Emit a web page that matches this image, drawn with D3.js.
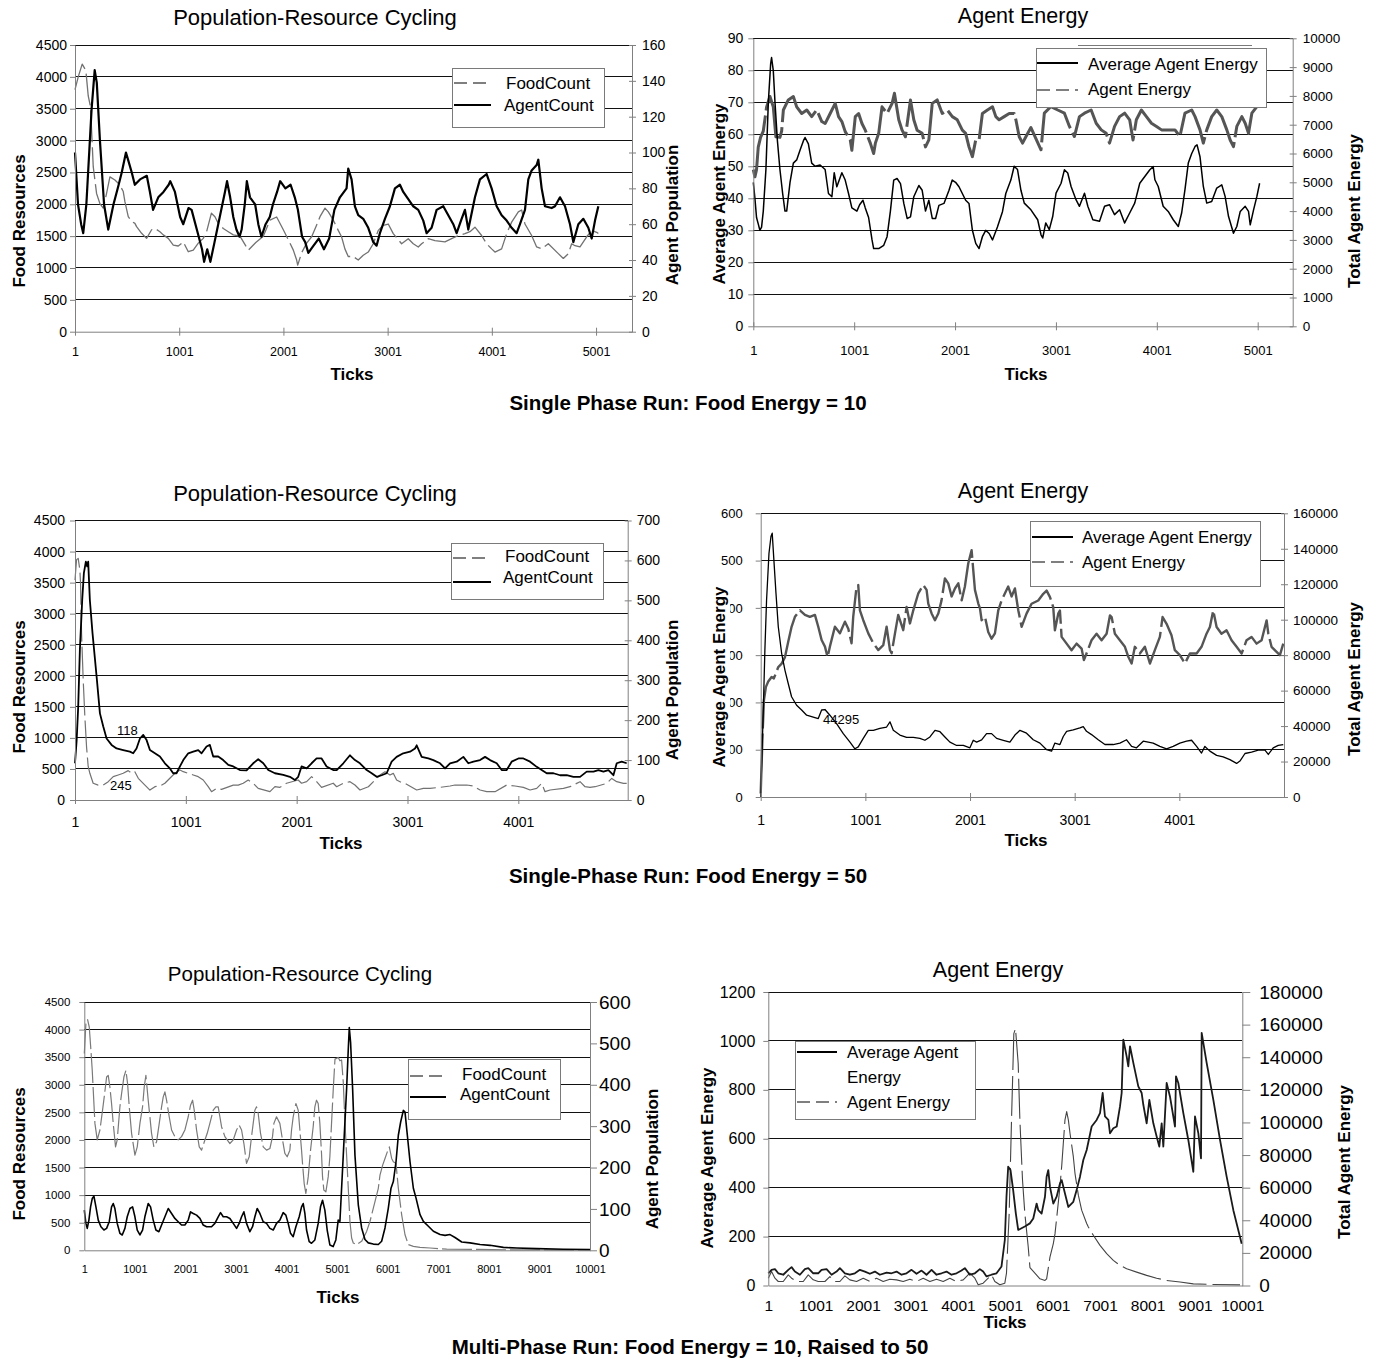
<!DOCTYPE html>
<html><head><meta charset="utf-8">
<script src="https://cdn.jsdelivr.net/npm/d3@7"></script>
<style>
body{margin:0;background:#fff;}
svg{display:block;}
</style></head><body>
<svg id="chart" width="1377" height="1362"></svg>
<script>
// ---------------- DATA ----------------
const xTicks5k = [1,1001,2001,3001,4001,5001];
const xTicks4k = [1,1001,2001,3001,4001];
const xTicks10k = [1,1001,2001,3001,4001,5001,6001,7001,8001,9001,10001];
const foodTicks = [0,500,1000,1500,2000,2500,3000,3500,4000,4500];
const p1RightTicks = [0,20,40,60,80,100,120,140,160];
const p2LeftTicks = [0,10,20,30,40,50,60,70,80,90];
const p2RightTicks = [0,1000,2000,3000,4000,5000,6000,7000,8000,9000,10000];
const p3RightTicks = [0,100,200,300,400,500,600,700];
const p4LeftTicks = [0,100,200,300,400,500,600];
const p4RightTicks = [0,20000,40000,60000,80000,100000,120000,140000,160000];
const p5RightTicks = [0,100,200,300,400,500,600];
const p6LeftTicks = [0,200,400,600,800,1000,1200];
const p6RightTicks = [0,20000,40000,60000,80000,100000,120000,140000,160000,180000];

const popNames = ["FoodCount","AgentCount"];
const energyNames = ["Average Agent Energy","Agent Energy"];

// Panel 1: Single phase, food energy 10
const p1Food = [[1,3800],[32,4000],[70,4200],[105,4100],[128,3700],[150,3530],[176,2590],[208,2170],[240,2010],[272,1940],[304,2170],[336,2430],[384,2380],[416,2330],[448,2250],[464,2200],[480,2040],[512,1805],[544,1730],[576,1700],[592,1650],[640,1545],[688,1465],[736,1600],[768,1620],[816,1570],[848,1520],[896,1465],[944,1360],[992,1345],[1040,1410],[1088,1255],[1136,1280],[1184,1390],[1232,1465],[1264,1570],[1310,1860],[1344,1805],[1376,1700],[1424,1620],[1472,1570],[1520,1520],[1584,1500],[1664,1280],[1736,1400],[1808,1500],[1872,1750],[1936,1800],[2000,1600],[2064,1390],[2096,1280],[2128,1125],[2138,1045],[2176,1240],[2224,1390],[2272,1490],[2320,1675],[2352,1805],[2400,1940],[2432,1880],[2480,1750],[2527,1590],[2559,1490],[2591,1300],[2623,1180],[2671,1180],[2719,1125],[2767,1200],[2815,1250],[2863,1380],[2911,1590],[2959,1670],[3007,1690],[3055,1540],[3135,1380],[3199,1460],[3247,1380],[3295,1330],[3327,1380],[3391,1460],[3455,1430],[3551,1410],[3615,1460],[3679,1510],[3743,1540],[3791,1570],[3839,1640],[3903,1510],[3951,1380],[3999,1300],[4031,1250],[4095,1300],[4143,1540],[4191,1720],[4255,1880],[4287,1910],[4319,1690],[4383,1510],[4431,1330],[4479,1300],[4543,1380],[4639,1225],[4687,1150],[4735,1225],[4767,1380],[4799,1350],[4847,1330],[4911,1490],[4959,1590],[5007,1560],[5023,1540]];
const p1Agent = [[1,100],[30,71],[60,60],[80,55],[110,71],[160,124],[190,146],[210,139],[240,107],[280,71],[320,57],[370,71],[420,82],[450,89],[490,100],[510,96],[545,89],[575,82],[625,85],[690,87],[720,78],[750,68],[800,75],[850,78],[900,82],[915,84],[960,78],[1010,64],[1040,60],[1090,69],[1120,68],[1170,57],[1220,46],[1240,39],[1270,46],[1300,39],[1340,50],[1390,64],[1440,78],[1460,84],[1490,75],[1520,64],[1550,57],[1580,53],[1600,57],[1630,71],[1650,84],[1680,75],[1730,71],[1760,60],[1790,53],[1830,60],[1870,64],[1900,71],[1940,78],[1970,84],[2020,80],[2070,82],[2110,75],[2140,68],[2180,53],[2210,50],[2240,44],[2290,48],[2340,52],[2390,46],[2440,52],[2490,68],[2543,75],[2607,80],[2623,91],[2655,85],[2687,70],[2719,65],[2767,63],[2815,58],[2863,50],[2895,48],[2927,55],[2975,63],[3023,70],[3071,80],[3119,82],[3151,78],[3199,74],[3247,70],[3295,68],[3343,62],[3375,55],[3423,58],[3471,68],[3535,70],[3583,65],[3631,60],[3663,55],[3711,63],[3743,68],[3775,57],[3839,75],[3887,85],[3951,88],[3999,80],[4047,70],[4095,65],[4143,62],[4191,58],[4239,55],[4271,60],[4319,68],[4351,85],[4383,90],[4431,93],[4447,96],[4479,80],[4511,70],[4575,69],[4607,70],[4655,75],[4703,70],[4751,60],[4783,50],[4831,60],[4879,63],[4927,58],[4959,52],[4991,62],[5023,70]];

// Panel 2: agent energy, food energy 10
const p2Avg = [[1,45],[17,40],[33,34],[50,32],[66,30],[83,31],[100,36],[126,49],[150,70],[173,82],[182,84],[199,80],[216,70],[240,58],[265,49],[292,41.5],[315,36],[332,36],[365,45],[398,51],[431,52],[464,55],[498,58],[514,59],[547,57],[580,51],[614,50],[663,50.4],[713,49],[746,41.5],[780,40.5],[803,48],[829,43.6],[879,48],[912,45.7],[945,41.5],[978,37],[1028,36],[1055,38],[1088,39.4],[1111,37],[1144,34],[1178,27],[1194,24.3],[1244,24.3],[1294,25.3],[1327,28],[1360,36],[1393,45.7],[1426,46.2],[1460,44.6],[1493,38.4],[1526,33.7],[1559,34.2],[1592,40.5],[1642,44],[1675,42.5],[1708,36],[1741,39.4],[1775,33.7],[1808,33.7],[1841,37.8],[1891,38.4],[1941,42.5],[1973,45.7],[2006,45],[2040,43.6],[2073,41.5],[2106,39.4],[2139,38.4],[2173,30],[2206,25.9],[2239,24.3],[2272,28],[2305,30],[2339,29],[2372,27],[2421,31],[2471,35.8],[2504,41.5],[2554,45.7],[2587,50],[2620,49],[2654,42.5],[2687,38.5],[2753,36.4],[2820,33.3],[2853,28.6],[2870,27.6],[2900,32.3],[2935,30.2],[2969,34.3],[3002,41.6],[3052,44.7],[3085,48.9],[3118,47.9],[3151,43.7],[3201,39.5],[3234,37.5],[3284,41.6],[3317,37.5],[3367,33.3],[3433,32.8],[3483,37.5],[3532,38],[3582,34.9],[3632,36.4],[3682,32.3],[3732,35.4],[3782,38.5],[3832,44.7],[3882,46.8],[3932,48.9],[3965,49.9],[3982,45.8],[4015,43.7],[4064,37.5],[4114,35.9],[4164,33.3],[4214,31.2],[4247,35.4],[4280,42.7],[4313,51],[4347,54],[4380,56.2],[4400,56.7],[4429,53],[4462,43.7],[4496,38.5],[4545,39],[4595,43.2],[4645,44.2],[4678,40.6],[4712,34.3],[4761,29.1],[4794,31.2],[4828,35.9],[4877,37.5],[4910,35.9],[4927,31.7],[4960,36.4],[4993,40.6],[5020,44.7]];
const p2Total = [[1,5440],[17,5190],[33,5440],[50,6220],[73,6560],[100,6780],[133,7620],[166,7980],[199,7620],[225,6580],[265,6560],[282,6780],[299,7510],[348,7860],[398,7980],[431,7620],[481,7390],[531,7510],[580,7280],[630,7510],[680,7110],[713,7040],[763,7390],[813,7740],[846,7280],[879,7110],[912,6760],[962,6470],[978,6110],[1012,7280],[1045,7390],[1078,7040],[1111,6810],[1161,6360],[1194,6000],[1211,6360],[1244,6700],[1277,7620],[1327,7390],[1377,7740],[1400,8090],[1443,7170],[1476,6810],[1509,6580],[1559,7860],[1592,7170],[1625,6810],[1675,6700],[1708,6230],[1741,6470],[1775,7740],[1824,7860],[1874,7390],[1924,7510],[1974,7280],[2023,7170],[2073,6810],[2106,6700],[2139,6230],[2173,5890],[2206,6470],[2239,6470],[2272,7390],[2322,7510],[2372,7620],[2405,7280],[2438,7170],[2488,7280],[2538,7390],[2587,7390],[2604,7170],[2637,6580],[2670,6360],[2703,6580],[2753,6900],[2853,6130],[2886,7400],[2952,7630],[3019,7510],[3085,7400],[3135,6940],[3184,6590],[3234,7280],[3284,7400],[3350,7510],[3400,7050],[3450,6820],[3499,6700],[3532,6360],[3582,6940],[3632,7280],[3682,7400],[3732,7170],[3765,6470],[3798,7170],[3848,7510],[3898,7280],[3948,7050],[3998,6940],[4048,6820],[4114,6820],[4181,6820],[4230,6590],[4280,7400],[4347,7510],[4380,7280],[4429,6820],[4462,6360],[4496,6820],[4545,7280],[4595,7510],[4645,7280],[4695,6820],[4728,6470],[4761,6240],[4794,6940],[4844,7280],[4877,7050],[4910,6700],[4943,7400],[4993,7630],[5026,7690]];

// Panel 3: Single phase, food energy 50
const p3Food = [[1,3540],[15,3870],[30,3890],[45,3700],[51,3490],[60,2690],[75,1930],[90,1340],[105,860],[120,540],[135,430],[165,270],[210,240],[256,240],[301,295],[346,376],[391,403],[436,430],[481,473],[511,430],[541,456],[572,349],[632,240],[677,160],[722,215],[767,225],[812,270],[857,350],[902,430],[948,483],[978,456],[1068,403],[1113,376],[1158,322],[1203,215],[1233,134],[1278,188],[1323,172],[1429,240],[1474,240],[1519,270],[1564,322],[1609,270],[1654,188],[1760,134],[1805,215],[1850,204],[1910,270],[2015,322],[2045,270],[2091,295],[2136,376],[2181,295],[2226,204],[2331,270],[2362,214],[2422,268],[2482,295],[2527,241],[2572,161],[2648,214],[2708,321],[2753,402],[2798,455],[2843,402],[2873,429],[2903,321],[2948,279],[2978,268],[3084,161],[3144,188],[3204,188],[3295,204],[3385,225],[3430,241],[3535,241],[3596,225],[3656,161],[3716,134],[3791,134],[3896,241],[3971,225],[4047,204],[4107,161],[4167,188],[4212,268],[4242,134],[4288,161],[4408,188],[4468,214],[4528,268],[4558,295],[4603,214],[4648,204],[4694,214],[4799,268],[4844,348],[4889,295],[4949,268],[4979,268]];
const p3Agent = [[1,92],[16,150],[30,234],[45,376],[66,501],[81,568],[99,597],[111,585],[120,597],[135,501],[159,418],[196,309],[226,217],[256,184],[286,154],[331,138],[376,129],[436,125],[496,121],[526,117],[556,129],[587,154],[617,163],[647,150],[677,125],[722,117],[767,109],[812,92],[857,79],[887,67],[917,67],[948,84],[978,100],[1023,117],[1068,121],[1113,125],[1143,117],[1188,134],[1218,138],[1248,109],[1293,109],[1338,100],[1384,88],[1429,84],[1489,75],[1549,74],[1609,92],[1654,102],[1700,92],[1745,75],[1805,67],[1880,63],[1940,58],[1985,50],[2015,58],[2045,84],[2091,79],[2136,92],[2181,104],[2226,104],[2271,84],[2331,75],[2362,75],[2422,92],[2482,112],[2527,100],[2572,92],[2633,75],[2678,67],[2723,58],[2768,62],[2813,67],[2858,96],[2903,108],[2963,117],[3024,121],[3069,129],[3084,137],[3129,108],[3189,104],[3234,100],[3295,92],[3340,79],[3385,92],[3445,96],[3505,108],[3550,92],[3596,96],[3656,100],[3701,108],[3746,100],[3806,92],[3851,75],[3896,75],[3941,96],[4002,104],[4047,104],[4107,96],[4167,83],[4212,75],[4257,67],[4318,67],[4378,62],[4438,62],[4498,58],[4558,58],[4618,71],[4679,71],[4724,75],[4769,71],[4814,75],[4859,62],[4889,92],[4934,96],[4979,92]];

// Panel 4: agent energy, food energy 50
const p4Avg = [[1,0],[10,70],[25,176],[41,311],[57,416],[80,515],[99,551],[111,558],[127,501],[147,431],[169,360],[201,304],[233,268],[264,240],[296,212],[344,194],[392,184],[440,173],[503,169],[551,166],[583,184],[615,185],[662,173],[726,155],[790,134],[854,116],[901,102],[933,106],[981,124],[1029,141],[1077,141],[1140,145],[1204,148],[1236,159],[1268,141],[1331,131],[1395,126],[1459,126],[1522,124],[1570,120],[1618,127],[1666,141],[1714,138],[1761,127],[1809,116],[1873,109],[1937,109],[2000,104],[2032,120],[2064,116],[2112,121],[2159,134],[2207,134],[2255,124],[2319,120],[2382,116],[2430,131],[2478,141],[2541,135],[2605,121],[2669,114],[2733,100],[2780,97],[2812,114],[2860,111],[2892,128],[2924,139],[2987,142],[3051,146],[3083,149],[3114,139],[3162,132],[3226,121],[3290,111],[3369,111],[3433,114],[3497,121],[3545,107],[3592,104],[3656,118],[3751,114],[3815,107],[3879,102],[3942,107],[4006,114],[4070,118],[4118,120],[4166,107],[4213,93],[4245,107],[4293,97],[4357,88],[4420,85],[4484,79],[4548,71],[4580,76],[4628,92],[4691,95],[4755,99],[4819,99],[4851,90],[4898,104],[4946,109],[4994,111]];
const p4Total = [[1,2000],[19,35700],[32,54700],[51,62100],[73,65100],[105,67700],[127,66900],[169,73300],[201,75200],[233,78900],[264,87500],[296,96000],[328,101600],[376,105300],[424,102700],[471,101600],[519,102700],[551,96000],[583,88500],[615,84800],[640,78900],[662,84800],[710,96000],[758,92300],[806,98900],[838,94900],[869,86700],[885,101600],[917,118700],[933,119500],[949,105300],[981,99700],[1029,92300],[1077,86700],[1124,82900],[1172,85600],[1204,96000],[1236,82900],[1252,81100],[1284,92300],[1315,102700],[1363,94100],[1395,107200],[1427,97900],[1459,105300],[1507,114900],[1554,119500],[1586,116800],[1602,109100],[1634,103500],[1666,99700],[1698,103500],[1729,110900],[1761,123200],[1793,120500],[1825,113100],[1857,117600],[1889,120500],[1921,110900],[1952,118700],[1984,131700],[2016,139200],[2032,128000],[2048,116800],[2080,109100],[2096,106400],[2112,99700],[2144,101600],[2175,93100],[2207,89300],[2239,92300],[2271,105300],[2303,110900],[2335,114900],[2366,118700],[2398,113100],[2430,117600],[2462,105300],[2494,96000],[2541,103400],[2589,109000],[2653,110800],[2701,114600],[2733,116400],[2765,112700],[2796,107100],[2812,94000],[2844,103400],[2860,105200],[2876,90300],[2924,86500],[2971,82800],[3019,86500],[3067,83700],[3089,77200],[3114,80900],[3162,88400],[3210,92100],[3258,88400],[3306,92100],[3338,102400],[3354,101500],[3385,92100],[3433,88400],[3481,84700],[3513,79100],[3545,75300],[3576,84700],[3624,80900],[3672,84700],[3720,75300],[3767,82800],[3815,90300],[3841,101500],[3879,97700],[3926,91200],[3958,82800],[4006,80000],[4054,75300],[4102,80900],[4166,80900],[4213,84700],[4261,92100],[4293,95900],[4325,105200],[4357,95900],[4404,92100],[4452,94000],[4500,88400],[4548,84700],[4596,80900],[4643,88400],[4691,90300],[4739,86500],[4787,88400],[4835,99600],[4851,92100],[4882,84700],[4930,81900],[4962,80000],[4994,86500]];

// Panel 5: multi-phase
const p5Food = [[1,3565],[33,4108],[66,4180],[99,4047],[132,3625],[158,3263],[178,2900],[211,2300],[257,2000],[310,2180],[362,2540],[395,2780],[442,3140],[474,3170],[507,2960],[540,2660],[573,2300],[619,1875],[652,2000],[705,2600],[738,2840],[784,3140],[824,3260],[857,3020],[890,2600],[936,2120],[1002,1725],[1048,1875],[1101,2300],[1153,2600],[1186,2960],[1219,3170],[1265,2720],[1331,2120],[1377,1875],[1430,1965],[1483,2300],[1529,2600],[1562,2780],[1595,2870],[1628,2720],[1680,2420],[1727,2180],[1792,2060],[1858,2000],[1924,2060],[1990,2180],[2023,2300],[2056,2420],[2102,2630],[2142,2720],[2175,2540],[2221,2180],[2274,1875],[2320,1815],[2386,2000],[2432,2120],[2484,2300],[2551,2540],[2603,2600],[2649,2600],[2682,2420],[2715,2240],[2781,2060],[2880,1935],[2946,2000],[3012,2180],[3064,2270],[3111,2180],[3157,1935],[3209,1575],[3262,1695],[3308,2060],[3341,2300],[3374,2540],[3407,2600],[3440,2480],[3486,2120],[3539,1875],[3605,1815],[3671,1845],[3723,2060],[3750,2300],[3802,2420],[3868,2300],[3921,2000],[3967,1755],[4013,1695],[4066,1815],[4099,2180],[4132,2420],[4185,2660],[4231,2540],[4264,2180],[4297,1815],[4316,1575],[4349,1210],[4382,1030],[4429,1330],[4475,1815],[4527,2240],[4560,2600],[4593,2720],[4626,2660],[4659,2300],[4692,1755],[4712,1330],[4738,1090],[4778,1060],[4824,1330],[4857,1695],[4890,2300],[4923,2900],[4958,3465],[5023,3495],[5056,3435],[5089,3450],[5122,3045],[5155,2325],[5188,1724],[5221,1125],[5254,522],[5287,222],[5320,132],[5386,102],[5485,162],[5584,342],[5650,522],[5749,883],[5815,1124],[5848,1363],[5901,1544],[5947,1664],[5993,1784],[6033,1874],[6079,1664],[6112,1604],[6165,1574],[6211,1124],[6277,643],[6343,282],[6409,102],[6508,72],[6640,54],[6838,42],[7167,20],[7800,15],[8500,8],[9500,4],[10001,2]];
const p5Agent = [[1,97],[33,65],[59,53],[92,73],[125,105],[158,125],[191,131],[231,105],[277,73],[330,57],[389,49],[442,53],[494,69],[540,105],[573,113],[606,101],[652,65],[705,41],[751,37],[804,53],[850,81],[903,101],[956,105],[1002,81],[1048,49],[1101,37],[1153,49],[1199,81],[1265,113],[1311,105],[1364,73],[1417,49],[1476,45],[1529,61],[1595,81],[1661,101],[1727,89],[1792,77],[1858,69],[1924,61],[1990,61],[2056,73],[2102,93],[2155,89],[2221,85],[2287,77],[2353,61],[2419,57],[2517,57],[2583,65],[2649,81],[2695,91],[2748,81],[2814,81],[2880,77],[2946,65],[3012,53],[3064,65],[3111,81],[3157,93],[3209,65],[3275,45],[3328,57],[3374,81],[3420,101],[3473,89],[3539,69],[3605,65],[3671,53],[3737,49],[3802,65],[3868,73],[3934,91],[3987,85],[4033,65],[4079,41],[4132,33],[4185,57],[4251,81],[4297,105],[4330,113],[4363,89],[4396,49],[4448,21],[4494,17],[4560,25],[4626,65],[4672,105],[4712,121],[4758,97],[4804,49],[4857,13],[4923,9],[4975,25],[5022,73],[5056,70],[5122,230],[5188,390],[5221,486],[5241,538],[5267,502],[5307,390],[5353,230],[5419,110],[5485,54],[5551,26],[5617,18],[5716,15],[5815,14],[5881,22],[5947,54],[6013,102],[6066,150],[6112,166],[6165,214],[6211,278],[6257,310],[6310,338],[6343,334],[6389,278],[6442,214],[6508,150],[6561,126],[6640,86],[6706,70],[6805,58],[6904,46],[7036,38],[7135,36],[7233,38],[7332,31],[7464,20],[7629,18],[7827,14],[8025,12],[8289,7],[8553,5.6],[8948,4],[9475,2.4],[10001,1.6]];

// Panel 6: multi-phase agent energy
const p6Avg = [[1,50],[70,64],[141,67],[211,50],[316,44],[422,64],[492,75],[562,57],[668,44],[773,67],[844,71],[949,50],[1054,50],[1125,64],[1230,67],[1336,44],[1441,57],[1511,71],[1617,50],[1722,44],[1828,50],[1933,64],[2039,57],[2144,48],[2250,57],[2355,44],[2496,53],[2601,50],[2707,57],[2812,44],[2917,50],[3023,64],[3128,48],[3234,61],[3339,44],[3445,64],[3550,44],[3656,50],[3761,57],[3866,44],[3972,50],[4077,61],[4148,71],[4253,44],[4359,50],[4464,67],[4534,57],[4605,37],[4710,44],[4816,50],[4921,78],[4991,186],[5026,363],[5062,486],[5111,472],[5167,390],[5223,295],[5273,227],[5343,234],[5413,241],[5519,254],[5591,274],[5662,335],[5697,308],[5767,294],[5838,363],[5873,445],[5908,472],[5943,404],[6014,335],[6084,363],[6154,417],[6190,431],[6260,376],[6331,321],[6436,342],[6506,390],[6577,445],[6647,513],[6718,554],[6823,650],[6928,677],[6999,705],[7055,787],[7104,691],[7175,677],[7210,622],[7280,643],[7351,650],[7421,732],[7456,787],[7491,1005],[7561,937],[7596,896],[7632,978],[7702,910],[7807,814],[7878,787],[7913,739],[7983,663],[8040,759],[8124,663],[8194,609],[8250,568],[8300,663],[8335,568],[8405,828],[8475,773],[8581,650],[8602,855],[8651,828],[8757,705],[8862,595],[8968,465],[9003,691],[9074,622],[9130,520],[9144,1033],[9249,910],[9390,759],[9531,595],[9671,445],[9812,308],[9988,171]];
const p6Total = [[1,4490],[70,8570],[141,4490],[211,2450],[316,2450],[422,6530],[492,4490],[598,2450],[738,2450],[844,6530],[949,3470],[1054,2450],[1195,2450],[1300,5510],[1406,2450],[1511,2450],[1617,5920],[1722,3470],[1863,2450],[2004,4490],[2144,2450],[2285,4490],[2425,2450],[2566,3880],[2707,3470],[2847,2450],[2988,3880],[3128,2450],[3269,4490],[3410,2450],[3550,3880],[3691,2450],[3831,4490],[3972,2450],[4113,3470],[4253,7550],[4359,4490],[4429,410],[4534,1430],[4640,4490],[4710,6530],[4780,2450],[4886,410],[4991,1430],[5026,7550],[5083,44300],[5132,101400],[5181,154500],[5216,157600],[5273,136100],[5308,102000],[5364,64700],[5413,44300],[5484,23900],[5521,11000],[5732,4100],[5838,3100],[5873,4100],[5943,17400],[6014,25700],[6050,31800],[6154,60500],[6190,72900],[6225,87200],[6260,101600],[6296,106700],[6331,101600],[6366,93400],[6436,79000],[6471,68800],[6542,55400],[6612,46200],[6718,38000],[6753,35900],[6858,30800],[6999,24600],[7140,19500],[7280,15400],[7421,12300],[7561,10300],[7772,8200],[7983,6200],[8194,4500],[8405,3100],[8687,2100],[8968,1000],[9390,600],[9953,400]];

// ---------------- DRAWING ----------------
const FONT = '"Liberation Sans", Arial, Helvetica, sans-serif';
const svg = d3.select('#chart');
svg.append('rect').attr('width',1377).attr('height',1362).attr('fill','#fff');

function addText(g, t, x, y, opt) {
  opt = opt || {};
  const el = g.append('text').attr('x', x).attr('y', y).text(t)
    .attr('font-family', FONT).attr('font-size', opt.size || 14)
    .attr('font-weight', opt.bold ? 'bold' : 'normal')
    .attr('text-anchor', opt.anchor || 'start').attr('fill', '#000');
  if (opt.rotate) el.attr('transform', `rotate(-90,${x},${y})`);
  return el;
}
function styleAxis(a, fs) {
  a.attr('font-family', FONT).attr('font-size', fs);
  a.select('.domain').attr('stroke', '#808080');
  a.selectAll('.tick line').attr('stroke', '#808080');
  a.selectAll('.tick text').attr('fill', '#000');
}

function drawPanel(c) {
  const g = svg.append('g');
  const x = d3.scaleLinear().domain(c.xDomain).range([c.x0, c.x1]);
  const yL = d3.scaleLinear().domain(c.yLDomain).range([c.yB, c.yT]);
  const yR = d3.scaleLinear().domain(c.yRDomain).range([c.yB, c.yT]);
  // gridlines at the left-axis ticks
  g.append('g').selectAll('line').data(c.yLTicks.filter(v => v > c.yLDomain[0])).join('line')
    .attr('x1', c.x0).attr('x2', c.x1)
    .attr('y1', d => yL(d)).attr('y2', d => yL(d))
    .attr('stroke', '#111').attr('stroke-width', 1).attr('shape-rendering', 'crispEdges');
  // series
  c.series.forEach(s => {
    const sy = s.axis === 'L' ? yL : yR;
    const line = d3.line().x(d => x(d[0])).y(d => sy(d[1]));
    g.append('path').datum(s.data).attr('d', line).attr('fill', 'none')
      .attr('stroke', s.color).attr('stroke-width', s.width)
      .attr('stroke-dasharray', s.dash || null)
      .attr('stroke-linejoin', 'round');
  });
  // left axis
  const gl = g.append('g').attr('transform', `translate(${c.x0},0)`)
    .call(d3.axisLeft(yL).tickValues(c.yLTicks).tickFormat(d => String(d)).tickSizeInner(c.lTick).tickSizeOuter(0));
  styleAxis(gl, c.lFont);
  gl.selectAll('.tick text').attr('x', -c.lGap);
  // right axis
  const gr = g.append('g').attr('transform', `translate(${c.x1},0)`)
    .call(d3.axisRight(yR).tickValues(c.yRTicks).tickFormat(d => String(d)).tickSizeInner(c.rTick).tickSizeOuter(0));
  styleAxis(gr, c.rFont);
  gr.selectAll('.tick line').attr('x1', -c.rTickIn);
  gr.selectAll('.tick text').attr('x', c.rGap);
  // bottom axis
  const gb = g.append('g').attr('transform', `translate(0,${c.yB})`)
    .call(d3.axisBottom(x).tickValues(c.xTicks).tickFormat(d => String(d)).tickSizeInner(c.bTick).tickSizeOuter(0));
  styleAxis(gb, c.bFont);
  gb.selectAll('.tick line').attr('y1', -c.bTick);
  gb.selectAll('.tick text').attr('y', c.bOff).attr('dy', null);
  // titles
  addText(g, c.title, c.titleX, c.titleY, {size: c.titleSize, anchor: 'middle'});
  if (c.lLabelBg) {
    g.append('rect').attr('x', c.lLabelBg[0]).attr('y', c.lLabelBg[1])
      .attr('width', c.lLabelBg[2]).attr('height', c.lLabelBg[3]).attr('fill', '#fff');
  }
  addText(g, c.lLabel, c.lLabelX, c.lLabelY, {size: 17, bold: true, anchor: 'middle', rotate: true});
  addText(g, c.rLabel, c.rLabelX, c.rLabelY, {size: 17, bold: true, anchor: 'middle', rotate: true});
  addText(g, 'Ticks', c.xLabelX, c.xLabelY, {size: 17, bold: true, anchor: 'middle'});
  // legend
  const L = c.legend;
  const lg = svg.append('g');
  lg.append('rect').attr('x', L.x).attr('y', L.y).attr('width', L.w).attr('height', L.h)
    .attr('fill', '#fff').attr('stroke', '#7a7a7a').attr('stroke-width', 1).attr('shape-rendering', 'crispEdges');
  L.items.forEach(it => {
    lg.append('line').attr('x1', it.lx1).attr('x2', it.lx2).attr('y1', it.ly).attr('y2', it.ly)
      .attr('stroke', '#000').attr('stroke-width', it.dash ? 1.2 : 2.2)
      .attr('stroke-dasharray', it.dash ? '13,6' : null);
    it.text.forEach((t, i) => addText(lg, t, it.tx, it.ty[i], {size: 17}));
  });
  (c.notes || []).forEach(n => addText(g, n.t, n.x, n.y, {size: n.size || 13}));
}

// Panel 1
drawPanel({
  xDomain: [1, 5346], x0: 75, x1: 632, yT: 45, yB: 331.7,
  yLDomain: [0, 4500], yRDomain: [0, 160],
  yLTicks: foodTicks, yRTicks: p1RightTicks, xTicks: xTicks5k,
  lTick: 5, lGap: 8, lFont: 14, rTick: 4, rTickIn: 3, rGap: 10, rFont: 14,
  bTick: 4, bOff: 24.5, bFont: 12.5,
  series: [
    {data: p1Food, axis: 'L', color: '#727272', width: 1.3, dash: '32,5'},
    {data: p1Agent, axis: 'R', color: '#000', width: 2.2}
  ],
  title: 'Population-Resource Cycling', titleX: 315, titleY: 25, titleSize: 22,
  lLabel: 'Food Resources', lLabelX: 25, lLabelY: 221,
  rLabel: 'Agent Population', rLabelX: 678, rLabelY: 215,
  xLabelX: 352, xLabelY: 380,
  legend: {x: 452, y: 68, w: 152, h: 59, items: [
    {lx1: 454, lx2: 491, ly: 83, dash: true, text: [popNames[0]], tx: 506, ty: [88.5]},
    {lx1: 454, lx2: 491, ly: 105, dash: false, text: [popNames[1]], tx: 504, ty: [110.5]}
  ]}
});

// Panel 2
drawPanel({
  xDomain: [1, 5348], x0: 753.3, x1: 1292.7, yT: 38.3, yB: 326.3,
  yLDomain: [0, 90], yRDomain: [0, 10000],
  yLTicks: p2LeftTicks, yRTicks: p2RightTicks, xTicks: xTicks5k,
  lTick: 5, lGap: 10, lFont: 14, rTick: 4, rTickIn: 3, rGap: 10, rFont: 13.5,
  bTick: 4, bOff: 29, bFont: 13,
  series: [
    {data: p2Total, axis: 'R', color: '#555', width: 3, dash: '70,5'},
    {data: p2Avg, axis: 'L', color: '#000', width: 1.5}
  ],
  title: 'Agent Energy', titleX: 1023, titleY: 23, titleSize: 21.5,
  lLabel: 'Average Agent Energy', lLabelX: 725, lLabelY: 194,
  rLabel: 'Total Agent Energy', rLabelX: 1360, rLabelY: 211,
  xLabelX: 1026, xLabelY: 380,
  legend: {x: 1036, y: 48, w: 230, h: 59, items: [
    {lx1: 1037, lx2: 1078, ly: 63, dash: false, text: [energyNames[0]], tx: 1088, ty: [70]},
    {lx1: 1037, lx2: 1078, ly: 90, dash: true, text: [energyNames[1]], tx: 1088, ty: [95]}
  ]}
});
svg.append('line').attr('x1', 1078).attr('x2', 1252).attr('y1', 45.5).attr('y2', 45.5)
  .attr('stroke', '#7a7a7a').attr('stroke-width', 1);

// Panel 3
drawPanel({
  xDomain: [1, 4988], x0: 75, x1: 627.7, yT: 520.5, yB: 800,
  yLDomain: [0, 4500], yRDomain: [0, 700],
  yLTicks: foodTicks, yRTicks: p3RightTicks, xTicks: xTicks4k,
  lTick: 5, lGap: 10, lFont: 14, rTick: 4, rTickIn: 3, rGap: 9, rFont: 14,
  bTick: 4, bOff: 27, bFont: 14,
  series: [
    {data: p3Food, axis: 'L', color: '#727272', width: 1.2, dash: '32,5'},
    {data: p3Agent, axis: 'R', color: '#000', width: 1.8}
  ],
  title: 'Population-Resource Cycling', titleX: 315, titleY: 501, titleSize: 22,
  lLabel: 'Food Resources', lLabelX: 25, lLabelY: 687,
  rLabel: 'Agent Population', rLabelX: 678, rLabelY: 690,
  xLabelX: 341, xLabelY: 849,
  legend: {x: 451, y: 543, w: 152, h: 56, items: [
    {lx1: 453, lx2: 491, ly: 558, dash: true, text: [popNames[0]], tx: 505, ty: [562]},
    {lx1: 453, lx2: 491, ly: 582, dash: false, text: [popNames[1]], tx: 503, ty: [583]}
  ]},
  notes: [{t: '118', x: 117, y: 735}, {t: '245', x: 110, y: 790}]
});

// Panel 4
drawPanel({
  xDomain: [1, 5001], x0: 760.7, x1: 1284, yT: 513.3, yB: 797,
  yLDomain: [0, 600], yRDomain: [0, 160000],
  yLTicks: p4LeftTicks, yRTicks: p4RightTicks, xTicks: xTicks4k,
  lTick: 5, lGap: 18, lFont: 13, rTick: 4, rTickIn: 3, rGap: 9, rFont: 13.5,
  bTick: 4, bOff: 28, bFont: 14,
  series: [
    {data: p4Total, axis: 'R', color: '#555', width: 2.4, dash: '60,5'},
    {data: p4Avg, axis: 'L', color: '#000', width: 1.3}
  ],
  title: 'Agent Energy', titleX: 1023, titleY: 498, titleSize: 21.5,
  lLabel: 'Average Agent Energy', lLabelX: 725, lLabelY: 677,
  lLabelBg: [698, 582, 32, 192],
  rLabel: 'Total Agent Energy', rLabelX: 1360, rLabelY: 679,
  xLabelX: 1026, xLabelY: 846,
  legend: {x: 1030, y: 521, w: 230, h: 65, items: [
    {lx1: 1032, lx2: 1073, ly: 537, dash: false, text: [energyNames[0]], tx: 1082, ty: [543]},
    {lx1: 1032, lx2: 1073, ly: 562, dash: true, text: [energyNames[1]], tx: 1082, ty: [568]}
  ]},
  notes: [{t: '44295', x: 823, y: 724}]
});

// Panel 5
drawPanel({
  xDomain: [1, 10001], x0: 84.3, x1: 590, yT: 1002, yB: 1250.3,
  yLDomain: [0, 4500], yRDomain: [0, 600],
  yLTicks: foodTicks, yRTicks: p5RightTicks, xTicks: xTicks10k,
  lTick: 5, lGap: 14, lFont: 11.5, rTick: 7, rTickIn: 0, rGap: 9, rFont: 19,
  bTick: 0, bOff: 23, bFont: 11,
  series: [
    {data: p5Food, axis: 'L', color: '#7a7a7a', width: 1.2, dash: '30,4'},
    {data: p5Agent, axis: 'R', color: '#000', width: 1.6}
  ],
  title: 'Population-Resource Cycling', titleX: 300, titleY: 981, titleSize: 20.5,
  lLabel: 'Food Resources', lLabelX: 25, lLabelY: 1154,
  rLabel: 'Agent Population', rLabelX: 658, rLabelY: 1159,
  xLabelX: 338, xLabelY: 1303,
  legend: {x: 408, y: 1059, w: 152, h: 60, items: [
    {lx1: 410, lx2: 446, ly: 1076, dash: true, text: [popNames[0]], tx: 462, ty: [1080]},
    {lx1: 410, lx2: 446, ly: 1097, dash: false, text: [popNames[1]], tx: 460, ty: [1100]}
  ]}
});

// Panel 6
drawPanel({
  xDomain: [1, 10001], x0: 768.3, x1: 1242.3, yT: 992, yB: 1285.5,
  yLDomain: [0, 1200], yRDomain: [0, 180000],
  yLTicks: p6LeftTicks, yRTicks: p6RightTicks, xTicks: xTicks10k,
  lTick: 5, lGap: 13, lFont: 16, rTick: 8, rTickIn: 0, rGap: 17, rFont: 19,
  bTick: 0, bOff: 25, bFont: 15.5,
  series: [
    {data: p6Total, axis: 'R', color: '#444', width: 1.1, dash: '40,6'},
    {data: p6Avg, axis: 'L', color: '#1a1a1a', width: 1.8}
  ],
  title: 'Agent Energy', titleX: 998, titleY: 977, titleSize: 21.5,
  lLabel: 'Average Agent Energy', lLabelX: 713, lLabelY: 1158,
  rLabel: 'Total Agent Energy', rLabelX: 1350, rLabelY: 1162,
  xLabelX: 1005, xLabelY: 1328,
  legend: {x: 795, y: 1041, w: 180, h: 78, items: [
    {lx1: 797, lx2: 837, ly: 1052, dash: false, text: ['Average Agent', 'Energy'], tx: 847, ty: [1058, 1083]},
    {lx1: 797, lx2: 837, ly: 1102, dash: true, text: [energyNames[1]], tx: 847, ty: [1108]}
  ]}
});

// run captions
const captions = [
  {t: 'Single Phase Run: Food Energy = 10', x: 688, y: 410},
  {t: 'Single-Phase Run: Food Energy = 50', x: 688, y: 883},
  {t: 'Multi-Phase Run: Food Energy = 10, Raised to 50', x: 690, y: 1354}
];
captions.forEach(c => addText(svg, c.t, c.x, c.y, {size: 20.5, bold: true, anchor: 'middle'}));
</script>
</body></html>
